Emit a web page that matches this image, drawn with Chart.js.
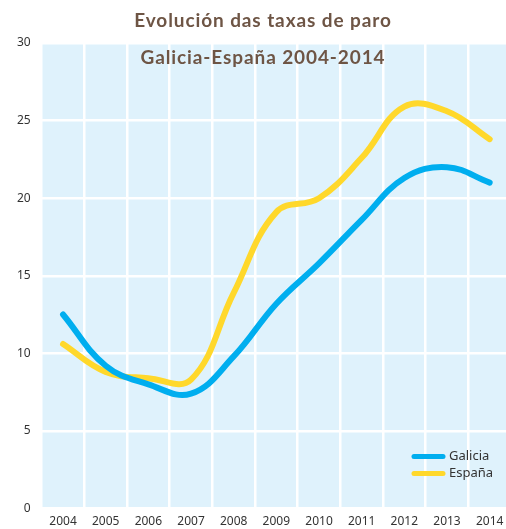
<!DOCTYPE html>
<html>
<head>
<meta charset="utf-8">
<script src="https://cdn.jsdelivr.net/npm/chart.js@4.4.1/dist/chart.umd.min.js"></script>
<style>
  html, body { margin: 0; padding: 0; background: #fff; overflow: hidden; }
  #wrap { width: 511px; height: 529px; }
</style>
</head>
<body>
<div id="wrap"><canvas id="lineChart"></canvas></div>
<script>
// data
const years = ["2004", "2005", "2006", "2007", "2008", "2009", "2010", "2011", "2012", "2013", "2014"];
const galicia = [12.5, 9.2, 8.0, 7.4, 9.8, 13.2, 15.8, 18.6, 21.3, 22.0, 21.0];
const espana = [10.6, 8.8, 8.4, 8.3, 13.9, 19.1, 20.0, 22.6, 25.9, 25.6, 23.8];
const titleLines = ["Evolución das taxas de paro", "Galicia-España 2004-2014"];

const plotBg = {
  id: "plotBg",
  beforeDraw(chart) {
    const { ctx, chartArea: a } = chart;
    ctx.save();
    ctx.fillStyle = "#dff2fc";
    ctx.fillRect(a.left, a.top, a.right - a.left, a.bottom - a.top);
    ctx.restore();
  },
};

// title drawn over the plot, legend inside the plot (bottom right)
const overlay = {
  id: "overlay",
  afterDraw(chart) {
    const { ctx, chartArea: a } = chart;
    ctx.save();
    ctx.fillStyle = "#6e5545";
    ctx.font = "bold 19px Lato";
    ctx.letterSpacing = "0.9px";
    ctx.textAlign = "center";
    ctx.textBaseline = "middle";
    ctx.fillText(titleLines[0], 263, 21);
    ctx.fillText(titleLines[1], 263, 58);
    ctx.letterSpacing = "0px";

    ctx.font = "13px 'Noto Sans'";
    ctx.textAlign = "left";
    chart.data.datasets.forEach(function (ds, i) {
      const y = a.bottom - 52 + i * 17;
      ctx.strokeStyle = ds.borderColor;
      ctx.lineWidth = 5;
      ctx.lineCap = "round";
      ctx.beginPath();
      ctx.moveTo(a.right - 97, y);
      ctx.lineTo(a.right - 68, y);
      ctx.stroke();
      ctx.fillStyle = "#333";
      ctx.fillText(ds.label, a.right - 62, y);
    });
    ctx.restore();
  },
};

const el = document.getElementById("lineChart");
const chart = new Chart(el, {
  type: "line",
  data: {
    labels: years,
    datasets: [
      {
        label: "Galicia",
        data: galicia,
        borderColor: "#00aeef",
        borderWidth: 6,
        borderCapStyle: "round",
        tension: 0.4,
        pointRadius: 0,
      },
      {
        label: "España",
        data: espana,
        borderColor: "#ffd82b",
        borderWidth: 6,
        borderCapStyle: "round",
        tension: 0.4,
        pointRadius: 0,
      },
    ],
  },
  options: {
    responsive: true,
    maintainAspectRatio: false,
    animation: false,
    layout: { padding: { top: 43, left: 0, right: 0, bottom: 0 } },
    plugins: {
      legend: { display: false },
      title: { display: false },
      tooltip: { enabled: false },
    },
    scales: {
      x: {
        offset: true,
        grid: { offset: true, color: "#ffffff", lineWidth: 2.5, drawTicks: false },
        border: { display: false },
        ticks: { color: "#333", font: { family: "Noto Sans", size: 12 }, padding: 6, maxRotation: 0 },
        afterFit(scale) { scale.height = 20.5; },
      },
      y: {
        min: 0,
        max: 30,
        grid: { color: "#ffffff", lineWidth: 2.5, drawTicks: false },
        border: { display: false },
        ticks: { stepSize: 5, color: "#333", font: { family: "Noto Sans", size: 12 }, padding: 11 },
        afterFit(scale) { scale.width = 41.7; },
      },
    },
  },
  plugins: [plotBg, overlay],
});
</script>
</body>
</html>
